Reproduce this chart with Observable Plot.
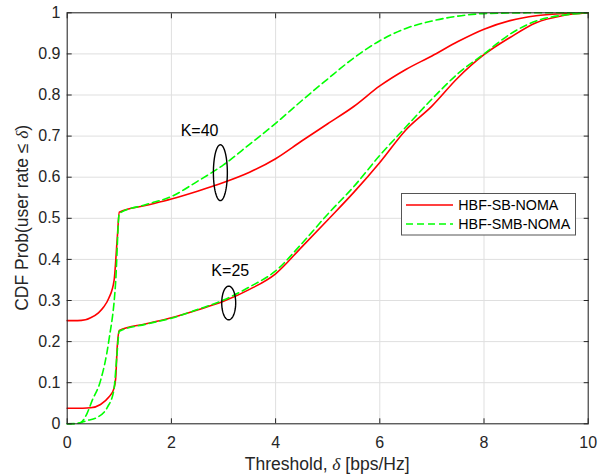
<!DOCTYPE html>
<html><head><meta charset="utf-8">
<script src="https://cdn.jsdelivr.net/npm/d3@7"></script>
<script src="https://cdn.jsdelivr.net/npm/@observablehq/plot@0.6"></script>
<style>
html,body{margin:0;padding:0;background:#fff;}
#chart{position:relative;width:605px;height:476px;}
#chart svg{font-family:"Liberation Sans",Arial,Helvetica,sans-serif;}
</style></head><body><div id="chart"></div>
<script>
// ---- tick values / labels ----
const xTicks = [0, 2, 4, 6, 8, 10];
const xTickLabels = ["0", "2", "4", "6", "8", "10"];
const yTicks = [0, 0.1, 0.2, 0.3, 0.4, 0.5, 0.6, 0.7, 0.8, 0.9, 1];
const yTickLabels = ["0", "0.1", "0.2", "0.3", "0.4", "0.5", "0.6", "0.7", "0.8", "0.9", "1"];
const seriesNames = ["HBF-SB-NOMA", "HBF-SMB-NOMA"];
const xLabelMain = "Threshold, ";
const xLabelSym = "δ";
const xLabelTail = " [bps/Hz]";
const yLabelMain = "CDF Prob(user rate ≤ ";
const yLabelSym = "δ";
const yLabelTail = ")";

// ---- HBF-SB-NOMA, K=40 ----
const sbK40X = [0, 0.2, 0.35, 0.45, 0.6, 0.7, 0.8, 0.9, 0.96, 1.0, 1.5, 2.0, 2.5, 3.0, 3.5, 4.0, 4.5, 5.0, 5.5, 6.0, 6.5, 7.0, 7.5, 8.0, 8.5, 9.0, 9.5, 10];
const sbK40Y = [0.251, 0.251, 0.253, 0.258, 0.27, 0.284, 0.306, 0.349, 0.45, 0.515, 0.531, 0.547, 0.566, 0.587, 0.612, 0.645, 0.688, 0.73, 0.772, 0.822, 0.862, 0.895, 0.93, 0.96, 0.981, 0.993, 0.998, 1.0];
// ---- HBF-SMB-NOMA, K=40 ----
const smbK40X = [0, 0.12, 0.26, 0.38, 0.48, 0.64, 0.8, 0.93, 1.0, 1.5, 2.0, 2.5, 3.0, 3.5, 4.0, 4.5, 5.0, 5.5, 6.0, 6.5, 7.0, 7.5, 8.0, 9.0, 10];
const smbK40Y = [0, 0, 0.003, 0.025, 0.057, 0.105, 0.203, 0.345, 0.512, 0.533, 0.553, 0.59, 0.63, 0.68, 0.731, 0.786, 0.839, 0.89, 0.932, 0.962, 0.98, 0.992, 0.998, 1.0, 1.0];
// ---- HBF-SB-NOMA, K=25 ----
const sbK25X = [0, 0.3, 0.45, 0.64, 0.8, 0.895, 0.93, 0.96, 1.0, 1.5, 2.0, 2.5, 3.0, 3.5, 4.0, 4.5, 5.0, 5.5, 6.0, 6.5, 7.0, 7.5, 8.0, 8.5, 9.0, 9.5, 10];
const sbK25Y = [0.038, 0.038, 0.039, 0.047, 0.065, 0.085, 0.11, 0.186, 0.227, 0.243, 0.258, 0.277, 0.298, 0.327, 0.365, 0.43, 0.496, 0.563, 0.636, 0.715, 0.773, 0.842, 0.898, 0.94, 0.976, 0.993, 1.0];
// ---- HBF-SMB-NOMA, K=25 ----
const smbK25X = [0, 0.2, 0.38, 0.58, 0.77, 0.895, 0.95, 1.0, 1.5, 2.0, 2.5, 3.0, 3.5, 4.0, 4.5, 5.0, 5.5, 6.0, 6.5, 7.0, 7.5, 8.0, 8.5, 9.0, 9.5, 10];
const smbK25Y = [0, 0.001, 0.008, 0.016, 0.04, 0.081, 0.16, 0.225, 0.242, 0.257, 0.278, 0.301, 0.333, 0.372, 0.438, 0.51, 0.577, 0.653, 0.722, 0.79, 0.852, 0.9, 0.948, 0.98, 0.994, 1.0];

// ---- annotations ----
const annotLabels = ["K=40", "K=25"];
const annotLabelX = [2.54, 3.13];
const annotLabelY = [0.712, 0.373];
const ellipseCX = [2.94, 3.10];
const ellipseCY = [0.611, 0.294];
const ellipseRX = [0.134, 0.134];
const ellipseRY = [0.068, 0.041];

// ---- build tables ----
function rows(xs, ys, group) { return xs.map((x, i) => ({x, y: ys[i], group})); }
const sbRows = [...rows(sbK40X, sbK40Y, "K40"), ...rows(sbK25X, sbK25Y, "K25")];
const smbRows = [...rows(smbK40X, smbK40Y, "K40"), ...rows(smbK25X, smbK25Y, "K25")];
const annot = annotLabels.map((t, i) => ({text: t, x: annotLabelX[i], y: annotLabelY[i]}));
const ellipseRows = [];
annotLabels.forEach((k, j) => {
  for (let s = 0; s <= 72; s++) {
    const t = s / 72 * 2 * Math.PI;
    ellipseRows.push({k, x: ellipseCX[j] + ellipseRX[j] * Math.cos(t), y: ellipseCY[j] + ellipseRY[j] * Math.sin(t)});
  }
});

const RED = "#ff0000", GREEN = "#00ff00", AX = "#262626";
const fontFamily = '"Liberation Sans", Arial, Helvetica, sans-serif';

const chart = Plot.plot({
  width: 605, height: 476,
  marginLeft: 66.7, marginRight: 17.3, marginTop: 12.3, marginBottom: 52.7,
  style: {fontFamily, fontSize: "16px", color: AX, background: "#fff"},
  x: {domain: [0, 10]},
  y: {domain: [0, 1]},
  marks: [
    Plot.gridX(xTicks, {stroke: "#dfdfdf", strokeOpacity: 1}),
    Plot.gridY(yTicks, {stroke: "#dfdfdf", strokeOpacity: 1}),
    Plot.line(sbRows, {x: "x", y: "y", z: "group", stroke: RED, strokeWidth: 1.6, curve: "monotone-x"}),
    Plot.line(smbRows, {x: "x", y: "y", z: "group", stroke: GREEN, strokeWidth: 1.6, strokeDasharray: "7,4", curve: "monotone-x"}),
    Plot.line(ellipseRows, {x: "x", y: "y", z: "k", stroke: "#000", strokeWidth: 1.4, curve: "linear"}),
    Plot.text(annot, {x: "x", y: "y", text: "text", fontSize: 16, fill: "#000"}),
    Plot.frame({stroke: AX, strokeWidth: 1}),
    Plot.axisX(xTicks, {anchor: "bottom", tickSize: -5, tickPadding: 18, label: null, tickFormat: d => xTickLabels[xTicks.indexOf(d)], fontSize: 16}),
    Plot.axisX(xTicks, {anchor: "top", tickSize: -5, label: null, tickFormat: () => ""}),
    Plot.axisY(yTicks, {anchor: "left", tickSize: -5, tickPadding: 11.7, label: null, tickFormat: d => yTickLabels[yTicks.indexOf(d)], fontSize: 16}),
    Plot.axisY(yTicks, {anchor: "right", tickSize: -5, label: null, tickFormat: () => ""})
  ]
});

document.getElementById("chart").appendChild(chart);

// ---- axis titles (with italic delta) ----
const svg = d3.select(chart);
const sx = chart.scale("x"), sy = chart.scale("y");
const cx = (sx.apply(0) + sx.apply(10)) / 2;
const cy = (sy.apply(0) + sy.apply(1)) / 2;
const xt = svg.append("text").attr("x", cx).attr("y", 470).attr("text-anchor", "middle")
  .attr("font-size", 17.5).attr("fill", AX).attr("font-family", fontFamily);
xt.append("tspan").text(xLabelMain);
xt.append("tspan").attr("font-style", "italic").attr("font-family", '"Liberation Serif", "DejaVu Serif", serif').text(xLabelSym);
xt.append("tspan").text(xLabelTail);
const yt = svg.append("text").attr("transform", `translate(28,${cy}) rotate(-90)`).attr("text-anchor", "middle")
  .attr("font-size", 17.5).attr("fill", AX).attr("font-family", fontFamily);
yt.append("tspan").text(yLabelMain);
yt.append("tspan").attr("font-style", "italic").attr("font-family", '"Liberation Serif", "DejaVu Serif", serif').text(yLabelSym);
yt.append("tspan").text(yLabelTail);

// ---- legend ----
const lg = svg.append("g").attr("font-family", fontFamily).attr("font-size", 14.3).attr("text-anchor", "start");
lg.append("rect").attr("x", 401.5).attr("y", 193.5).attr("width", 174).attr("height", 41.5)
  .attr("fill", "#fff").attr("stroke", "#555").attr("stroke-width", 1);
const legendColors = [RED, GREEN];
const legendDash = [null, "7,4"];
seriesNames.forEach((name, i) => {
  const yy = 205 + i * 19;
  lg.append("line").attr("x1", 406).attr("x2", 453).attr("y1", yy).attr("y2", yy)
    .attr("stroke", legendColors[i]).attr("stroke-width", 1.6).attr("stroke-dasharray", legendDash[i]);
  lg.append("text").attr("x", 458.3).attr("y", yy + 5).attr("text-anchor", "start").attr("fill", "#000").text(name);
});
</script>
</body></html>
